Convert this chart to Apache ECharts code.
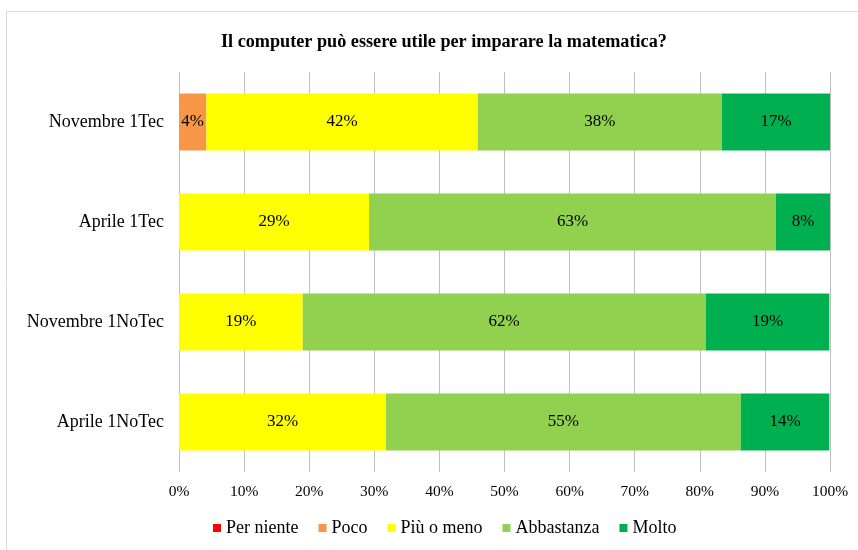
<!DOCTYPE html>
<html><head><meta charset="utf-8">
<script src="https://cdn.jsdelivr.net/npm/echarts@6/dist/echarts.min.js"></script>
<style>html,body{margin:0;padding:0;background:#fff}#c{width:858px;height:550px}</style>
</head><body><div id="c"></div>
<script>
const categories = ['Novembre 1Tec', 'Aprile 1Tec', 'Novembre 1NoTec', 'Aprile 1NoTec'];
const perNiente = [0, 0, 0, 0];
const poco = [4.2, 0, 0, 0];
const piuOMeno = [41.7, 29.2, 19.0, 31.8];
const abbastanza = [37.5, 62.5, 61.9, 54.5];
const molto = [16.7, 8.3, 19.0, 13.6];
const xTicks = [0, 10, 20, 30, 40, 50, 60, 70, 80, 90, 100];

const font = 'Liberation Serif';
const names = ['Per niente', 'Poco', 'Più o meno', 'Abbastanza', 'Molto'];
const colors = ['#FF0000', '#F79646', '#FFFF00', '#92D050', '#00B050'];
const datas = [perNiente, poco, piuOMeno, abbastanza, molto];

const chart = echarts.init(document.getElementById('c'));
chart.setOption({
  animation: false,
  graphic: [{type: 'rect', shape: {x: 6.5, y: 11.5, width: 900, height: 600}, style: {fill: 'none', stroke: '#D9D9D9', lineWidth: 1}, z: -10}],
  title: {text: 'Il computer può essere utile per imparare la matematica?', left: 216, top: 28,
    textStyle: {fontFamily: font, fontSize: 18.2, fontWeight: 'bold', color: '#000'}},
  legend: {bottom: 8, left: 208, itemWidth: 8, itemHeight: 8, itemGap: 20,
    icon: 'rect', textStyle: {fontFamily: font, fontSize: 18, color: '#000'},
    data: names},
  grid: {left: 179, right: 28, top: 72, bottom: 78, containLabel: false},
  xAxis: {type: 'value', min: 0, max: 100, interval: 10,
    axisLine: {show: false}, axisTick: {show: false},
    splitLine: {show: true, lineStyle: {color: '#BFBFBF', width: 1}},
    axisLabel: {formatter: v => xTicks.includes(v) ? v + '%' : '', fontFamily: font, fontSize: 15.5, color: '#000', margin: 12}},
  yAxis: {type: 'category', inverse: true, data: categories,
    axisLine: {show: false}, axisTick: {show: false},
    axisLabel: {fontFamily: font, fontSize: 18, color: '#000', margin: 15}},
  series: names.map((n, i) => ({
    name: n, type: 'bar', stack: 'total', barWidth: '57%',
    itemStyle: {color: colors[i]},
    label: {show: true, position: 'inside', fontFamily: font, fontSize: 17, color: '#000',
      formatter: p => p.value > 0 ? Math.round(p.value) + '%' : ''},
    data: datas[i]
  }))
});
</script></body></html>
